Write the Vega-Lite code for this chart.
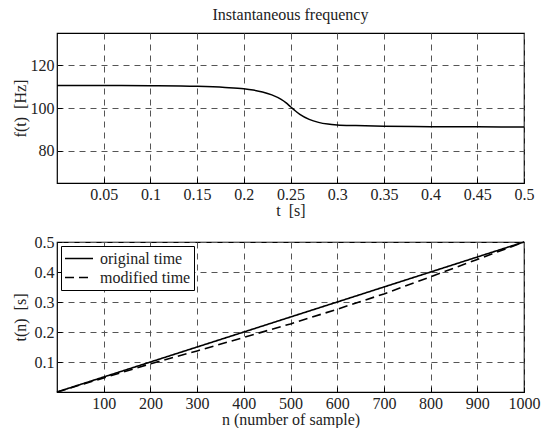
{
  "$schema": "https://vega.github.io/schema/vega-lite/v6.json",
  "padding": {"left": 11, "top": 6, "right": 0, "bottom": 0},
  "bounds": "flush",
  "spacing": 59,
  "background": "white",
  "resolve": {"legend": {"strokeDash": "independent"}},
  "config": {
    "font": "Times New Roman, Liberation Serif, serif",
    "view": {"stroke": "black", "strokeWidth": 1.2},
    "axis": {
      "labelFont": "Times New Roman, Liberation Serif, serif", "labelFontSize": 16, "labelColor": "#222",
      "titleFont": "Times New Roman, Liberation Serif, serif", "titleFontSize": 16, "titleFontWeight": "normal", "titleColor": "#222",
      "grid": true, "gridColor": "#555", "gridDash": [6, 5], "gridWidth": 1,
      "domain": false, "ticks": true, "tickSize": -5, "tickColor": "black", "tickWidth": 1,
      "labelPadding": 8, "labelFlush": false, "labelOverlap": false, "labelExpr": "datum.value + ''"
    },
    "axisX": {"titlePadding": 0},
    "axisY": {"titleX": -37, "titleBaseline": "middle"}
  },
  "datasets": {
    "freq": [
      {"t": 0, "f": 110.5}, {"t": 0.05, "f": 110.5}, {"t": 0.1, "f": 110.4}, {"t": 0.15, "f": 110.1},
      {"t": 0.18, "f": 109.6}, {"t": 0.2, "f": 109.0}, {"t": 0.21, "f": 108.4}, {"t": 0.22, "f": 107.5},
      {"t": 0.23, "f": 106.1}, {"t": 0.24, "f": 104.0}, {"t": 0.245, "f": 102.5}, {"t": 0.25, "f": 100.6},
      {"t": 0.255, "f": 98.7}, {"t": 0.26, "f": 97.0}, {"t": 0.27, "f": 94.7}, {"t": 0.28, "f": 93.3},
      {"t": 0.29, "f": 92.5}, {"t": 0.3, "f": 92.1}, {"t": 0.32, "f": 91.8}, {"t": 0.35, "f": 91.5},
      {"t": 0.4, "f": 91.3}, {"t": 0.45, "f": 91.2}, {"t": 0.5, "f": 91.1}
    ],
    "times": [
      {"n": 0, "t": 0, "series": "original time"},
      {"n": 100, "t": 0.05, "series": "original time"},
      {"n": 200, "t": 0.1, "series": "original time"},
      {"n": 300, "t": 0.15, "series": "original time"},
      {"n": 400, "t": 0.2, "series": "original time"},
      {"n": 500, "t": 0.25, "series": "original time"},
      {"n": 600, "t": 0.3, "series": "original time"},
      {"n": 700, "t": 0.35, "series": "original time"},
      {"n": 800, "t": 0.4, "series": "original time"},
      {"n": 900, "t": 0.45, "series": "original time"},
      {"n": 1000, "t": 0.5, "series": "original time"},
      {"n": 0, "t": 0, "series": "modified time"},
      {"n": 100, "t": 0.047, "series": "modified time"},
      {"n": 200, "t": 0.094, "series": "modified time"},
      {"n": 300, "t": 0.137, "series": "modified time"},
      {"n": 400, "t": 0.182, "series": "modified time"},
      {"n": 500, "t": 0.227, "series": "modified time"},
      {"n": 600, "t": 0.276, "series": "modified time"},
      {"n": 700, "t": 0.327, "series": "modified time"},
      {"n": 800, "t": 0.384, "series": "modified time"},
      {"n": 900, "t": 0.442, "series": "modified time"},
      {"n": 1000, "t": 0.5, "series": "modified time"}
    ]
  },
  "vconcat": [
    {
      "title": {"text": "Instantaneous frequency", "font": "Times New Roman, Liberation Serif, serif", "fontSize": 16, "fontWeight": "normal", "color": "#222", "offset": 10, "anchor": "middle"},
      "width": 467,
      "height": 150,
      "data": {"name": "freq"},
      "mark": {"type": "line", "color": "black", "strokeWidth": 1.5, "interpolate": "monotone"},
      "encoding": {
        "x": {"field": "t", "type": "quantitative",
          "scale": {"domain": [0, 0.5], "nice": false, "zero": false},
          "axis": {"values": [0.05, 0.1, 0.15, 0.2, 0.25, 0.3, 0.35, 0.4, 0.45, 0.5], "title": "t\u00a0\u00a0[s]"}},
        "y": {"field": "f", "type": "quantitative",
          "scale": {"domain": [65, 135], "nice": false, "zero": false},
          "axis": {"values": [80, 100, 120], "title": "f(t)\u00a0\u00a0[Hz]"}}
      }
    },
    {
      "width": 467,
      "height": 150,
      "data": {"name": "times"},
      "mark": {"type": "line", "color": "black", "strokeWidth": 1.6},
      "encoding": {
        "x": {"field": "n", "type": "quantitative",
          "scale": {"domain": [0, 1000], "nice": false, "zero": false},
          "axis": {"values": [100, 200, 300, 400, 500, 600, 700, 800, 900, 1000], "title": "n (number of sample)"}},
        "y": {"field": "t", "type": "quantitative",
          "scale": {"domain": [0, 0.5], "nice": false, "zero": false},
          "axis": {"values": [0.1, 0.2, 0.3, 0.4, 0.5], "title": "t(n)\u00a0\u00a0[s]"}},
        "strokeDash": {"field": "series", "type": "nominal",
          "scale": {"domain": ["original time", "modified time"], "range": [[1, 0], [9, 5]]},
          "legend": {
            "title": null, "orient": "top-left", "offset": 4, "padding": 3,
            "strokeColor": "black", "fillColor": "white",
            "symbolType": "stroke", "symbolSize": 784, "symbolStrokeWidth": 1.6, "symbolStrokeColor": "black",
            "clipHeight": 19, "rowPadding": 0,
            "labelFont": "Times New Roman, Liberation Serif, serif", "labelFontSize": 16, "labelColor": "#222", "labelOffset": 6
          }}
      }
    }
  ]
}
